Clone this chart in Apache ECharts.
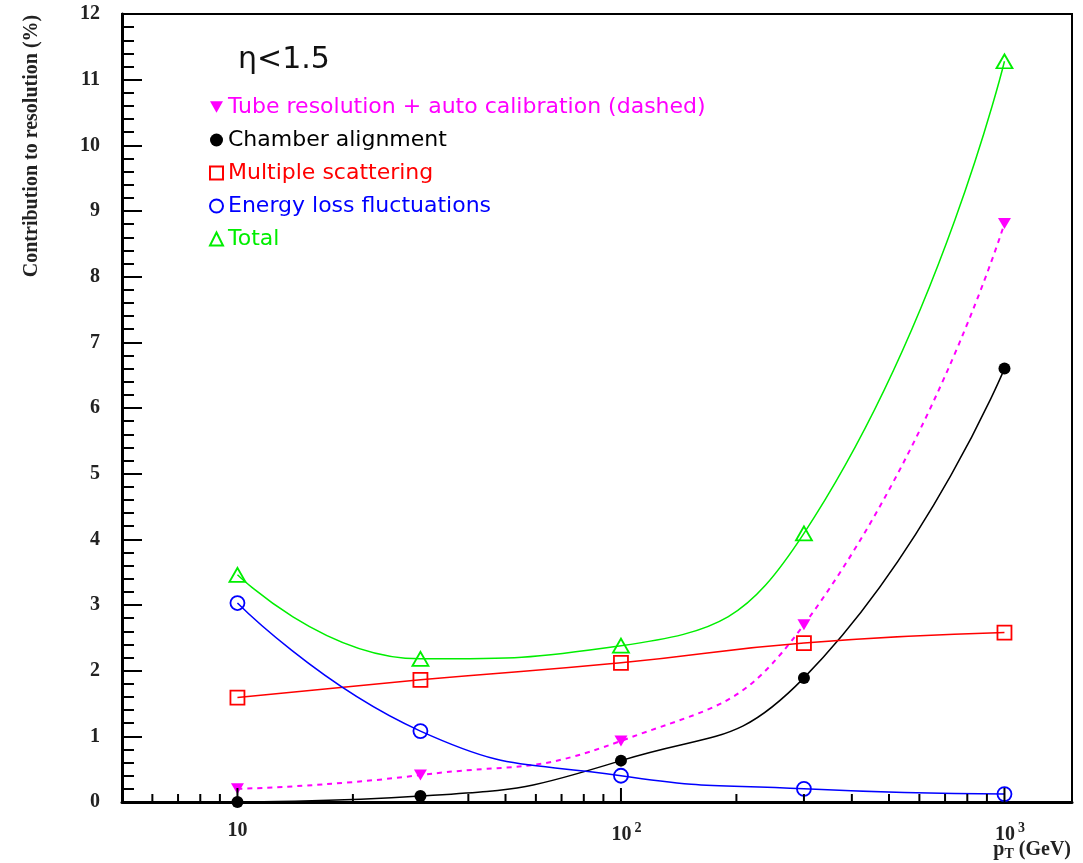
<!DOCTYPE html>
<html>
<head>
<meta charset="utf-8">
<script src="https://cdn.jsdelivr.net/npm/echarts@6/dist/echarts.min.js"></script>
<style>
html,body{margin:0;padding:0;background:#fff;}
#chart{width:1083px;height:863px;}
</style>
</head>
<body>
<div id="chart"></div>
<script>
// ---- data ----
const pT = [10, 30, 100, 300, 1000];
const tubeRes = [0.20, 0.41, 0.93, 2.70, 8.81];
const chamberAlign = [0.00, 0.09, 0.63, 1.89, 6.60];
const multScatt = [1.59, 1.86, 2.12, 2.42, 2.58];
const energyLoss = [3.03, 1.08, 0.40, 0.20, 0.12];
const total = [3.46, 2.18, 2.38, 4.09, 11.28];
const xMajorTicks = [10, 100, 1000];
const xMinorTicks = [6, 7, 8, 9, 20, 30, 40, 50, 60, 70, 80, 90, 200, 300, 400, 500, 600, 700, 800, 900];
const seriesNames = [
  'Tube resolution + auto calibration (dashed)',
  'Chamber alignment',
  'Multiple scattering',
  'Energy loss fluctuations',
  'Total'
];
const MAGENTA = '#ff00ff', BLACK = '#000000', RED = '#ff0000', BLUE = '#0000ff', GREEN = '#00ee00';

function pairs(ys) { return pT.map((x, i) => [x, ys[i]]); }
const tickData = xMajorTicks.map(v => [v, 1]).concat(xMinorTicks.map(v => [v, 0]));

const chart = echarts.init(document.getElementById('chart'));
const serifBold = {fontFamily: 'Liberation Serif', fontWeight: 'bold', fontSize: 20, color: '#222'};

const option = {
  backgroundColor: '#ffffff',
  animation: false,
  title: {
    text: 'η<1.5',
    left: 233, top: 40,
    textStyle: {fontFamily: 'DejaVu Sans', fontWeight: 'normal', fontSize: 30, color: '#111'}
  },
  legend: {
    orient: 'vertical',
    left: 204, top: 91,
    itemWidth: 13, itemHeight: 13,
    itemGap: 11,
    textStyle: {fontFamily: 'DejaVu Sans', fontSize: 22},
    data: [
      {name: seriesNames[0], icon: 'path://M0,0L10,0L5,9Z', textStyle: {color: MAGENTA}},
      {name: seriesNames[1], icon: 'circle', textStyle: {color: BLACK}},
      {name: seriesNames[2], icon: 'rect', textStyle: {color: RED}},
      {name: seriesNames[3], icon: 'circle', textStyle: {color: BLUE}},
      {name: seriesNames[4], icon: 'triangle', textStyle: {color: GREEN}}
    ]
  },
  grid: {left: 122, right: 11, top: 14, bottom: 61, show: true, borderColor: '#000', borderWidth: 2, backgroundColor: 'transparent'},
  xAxis: {
    type: 'log', logBase: 10, min: 5, max: 1500,
    axisLine: {show: true, lineStyle: {color: '#000', width: 3}},
    axisTick: {show: false},
    minorTick: {show: false},
    splitLine: {show: false},
    axisLabel: {
      margin: 19,
      showMinLabel: false, showMaxLabel: false,
      formatter: function (v) {
        const e = Math.round(Math.log10(v));
        if (Math.abs(Math.log10(v) - e) > 1e-6) return '';
        if (e === 1) return '{b|10}';
        return '{pad|}{b|10}{sup|' + e + '}';
      },
      rich: {
        b: {fontFamily: 'Liberation Serif', fontWeight: 'bold', fontSize: 20, color: '#222'},
        sup: {fontFamily: 'Liberation Serif', fontWeight: 'bold', fontSize: 14, color: '#222', verticalAlign: 'bottom', padding: [0, 0, 13, 3]},
        pad: {width: 11}
      }
    }
  },
  yAxis: {
    type: 'value', min: 0, max: 12, interval: 1,
    axisLine: {show: true, lineStyle: {color: '#000', width: 3}},
    axisTick: {show: true, inside: true, length: 20, lineStyle: {color: '#000', width: 2}},
    minorTick: {show: true, splitNumber: 5, length: 12, lineStyle: {color: '#000', width: 2}},
    splitLine: {show: false},
    axisLabel: Object.assign({margin: 22}, serifBold)
  },
  graphic: [
    {
      type: 'text', x: 32, y: 146, rotation: Math.PI / 2,
      style: {text: 'Contribution to resolution (%)', fontFamily: 'Liberation Serif', fontWeight: 'bold', fontSize: 20, fill: '#222', align: 'center', verticalAlign: 'middle'}
    },
    {
      type: 'text', x: 1071, y: 850,
      style: {
        text: '{p|p}{s|T}{p| (GeV)}', align: 'right', verticalAlign: 'middle',
        rich: {
          p: {fontFamily: 'Liberation Serif', fontWeight: 'bold', fontSize: 20, fill: '#222'},
          s: {fontFamily: 'Liberation Serif', fontWeight: 'bold', fontSize: 14, fill: '#222', padding: [9, 0, 0, 0]}
        }
      }
    }
  ],
  series: [
    {
      name: seriesNames[0], type: 'line', data: pairs(tubeRes), smooth: true,
      symbol: 'triangle', symbolRotate: 180, symbolSize: [13, 11],
      itemStyle: {color: MAGENTA},
      lineStyle: {color: MAGENTA, width: 2, type: [5, 5]},
      z: 3
    },
    {
      name: seriesNames[1], type: 'line', data: pairs(chamberAlign), smooth: true,
      symbol: 'circle', symbolSize: 12,
      itemStyle: {color: BLACK},
      lineStyle: {color: BLACK, width: 1.5},
      z: 3
    },
    {
      name: seriesNames[2], type: 'line', data: pairs(multScatt), smooth: true,
      symbol: 'rect', symbolSize: 14,
      itemStyle: {color: 'rgba(255,255,255,0)', borderColor: RED, borderWidth: 1.8},
      lineStyle: {color: RED, width: 1.5},
      z: 3
    },
    {
      name: seriesNames[3], type: 'line', data: pairs(energyLoss), smooth: true,
      symbol: 'circle', symbolSize: 14,
      itemStyle: {color: 'rgba(255,255,255,0)', borderColor: BLUE, borderWidth: 1.8},
      lineStyle: {color: BLUE, width: 1.5},
      z: 3
    },
    {
      name: seriesNames[4], type: 'line', data: pairs(total), smooth: true,
      symbol: 'triangle', symbolSize: [16, 14],
      itemStyle: {color: 'rgba(255,255,255,0)', borderColor: GREEN, borderWidth: 1.8},
      lineStyle: {color: GREEN, width: 1.5},
      z: 3
    },
    {
      name: 'xticks', type: 'custom', data: tickData, silent: true, z: 4,
      renderItem: function (params, api) {
        const p = api.coord([api.value(0), 0]);
        const len = api.value(1) ? 14 : 8;
        return {type: 'line', shape: {x1: p[0], y1: p[1], x2: p[0], y2: p[1] - len}, style: {stroke: '#000', lineWidth: 2}};
      }
    }
  ]
};
chart.setOption(option);
</script>
</body>
</html>
